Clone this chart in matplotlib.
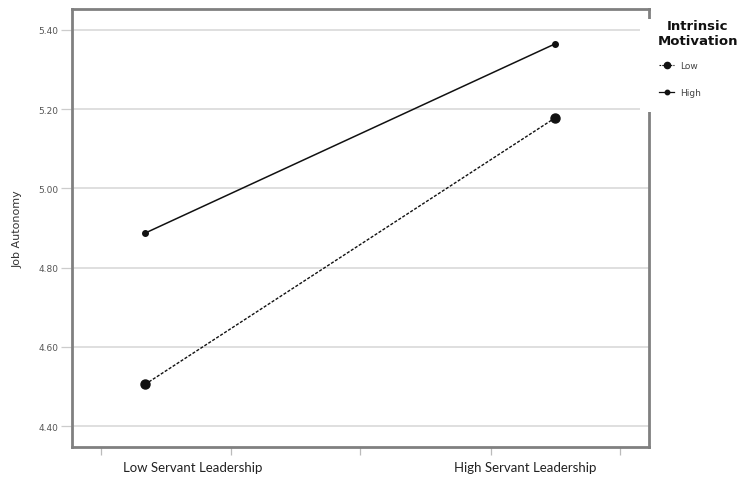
import matplotlib
matplotlib.use("Agg")
import numpy as np
import matplotlib.pyplot as plt
from matplotlib.patches import Rectangle
from matplotlib.lines import Line2D
from matplotlib.legend_handler import HandlerLine2D

categories = ["Low Servant Leadership", "High Servant Leadership"]
low_motivation = [4.505, 5.178]
high_motivation = [4.887, 5.365]
y_ticks = [4.40, 4.60, 4.80, 5.00, 5.20, 5.40]
series_labels = ["Low", "High"]


class EndMarkerHandler(HandlerLine2D):
    def get_xdata(self, legend, xdescent, ydescent, width, height, fontsize):
        xdata = np.array([-xdescent, -xdescent + width])
        xdata_marker = np.array([-xdescent + width])
        return xdata, xdata_marker


fig = plt.figure(figsize=(7.38, 4.81), dpi=100)
ax = fig.add_axes([72/738, 33/481, 577/738, 438/481])

xpos = [0, 1]
ax.plot(xpos, low_motivation, color="#111111", lw=1.0, ls=(0, (2.2, 1.2)),
        marker="o", ms=6.5, zorder=3)
ax.plot(xpos, high_motivation, color="#111111", lw=1.1, ls="-",
        marker="o", ms=4, zorder=3)

ax.set_xlim(-0.178, 1.229)
ax.set_ylim(4.347, 5.453)
ax.set_yticks(y_ticks)
ax.set_yticklabels([f"{v:.2f}" for v in y_ticks], fontsize=6.5, color="#555555")
ax.yaxis.grid(True, color="#d9d9d9", lw=1.2)
ax.set_axisbelow(True)
ax.tick_params(axis="y", length=8, width=0.9, color="#cccccc", pad=2)

# x: tick marks (minor) and category labels (major, no tick mark)
ax.set_xticks([0.117, 0.927])
ax.set_xticklabels(categories, fontsize=9.5, family="Lato", color="#222222")
ax.tick_params(axis="x", which="major", length=0, pad=10)
ax.set_xticks([-0.107, 0.210, 0.524, 0.844, 1.159], minor=True)
ax.tick_params(axis="x", which="minor", length=6, width=0.9, color="#bbbbbb")

for s in ax.spines.values():
    s.set_color("#808080")
    s.set_linewidth(2.0)

ax.set_ylabel("Job Autonomy", fontsize=8, color="#333333", labelpad=11)

# white box interrupting the right spine (legend area)
fig.add_artist(Rectangle((640/738, (481-113)/481), 98/738, 93/481,
                         transform=fig.transFigure, facecolor="white",
                         edgecolor="none", zorder=5))

fig.text(698/738, 1 - 34/481, "Intrinsic\nMotivation", ha="center", va="center",
         fontsize=9.5, fontweight="bold", color="#111111", linespacing=1.15, zorder=6)

handles = [
    Line2D([0], [0], color="#111111", lw=0.8, ls=(0, (1.5, 1)), marker="o", ms=4.5),
    Line2D([0], [0], color="#111111", lw=0.9, ls="-", marker="o", ms=3.2),
]
leg = fig.legend(handles, series_labels, loc="upper left",
                 bbox_to_anchor=(651/738, 1 - 54/481), frameon=False,
                 fontsize=6.5, handlelength=1.7, handletextpad=0.6,
                 labelspacing=2.0,
                 handler_map={Line2D: EndMarkerHandler()})
leg.set_zorder(6)
for t in leg.get_texts():
    t.set_color("#444444")

fig.savefig("out.png", dpi=100)
